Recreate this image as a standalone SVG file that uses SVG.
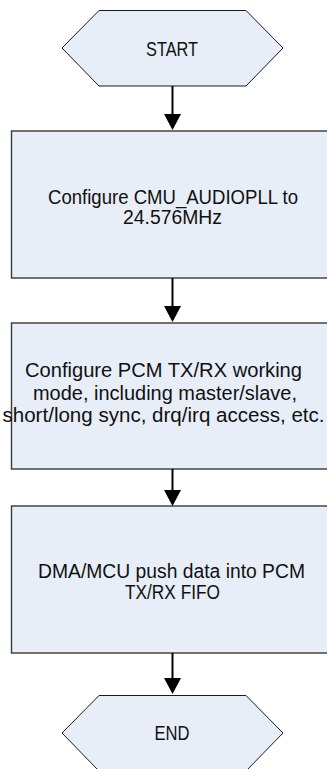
<svg xmlns="http://www.w3.org/2000/svg" width="327" height="769" viewBox="0 0 327 769">
<defs>
<style>
.hex{fill:#e8eef7;stroke:#1a1a1a;stroke-width:1}
.box{fill:#e8eef7;stroke:#3a3a3a;stroke-width:1.4}
.t{font-family:"Liberation Sans",Arial,sans-serif;font-size:19.5px;fill:#111;text-anchor:middle}
.c{stroke:#000;stroke-width:2;fill:none}
.ah{fill:#000}
</style>
</defs>
<rect width="327" height="769" fill="#fff"/>
<g id="start">
<polygon class="hex" points="62,48 99,10.5 246,10.5 283,48 246,86 99,86"/>
<text class="t" x="172" y="55.5" textLength="52" lengthAdjust="spacingAndGlyphs">START</text>
</g>
<g id="cfg-pll">
<rect class="box" x="11.5" y="131" width="330" height="147"/>
<text class="t" x="173" y="204" textLength="250" lengthAdjust="spacingAndGlyphs">Configure CMU_AUDIOPLL to</text>
<text class="t" x="172.5" y="224" textLength="99" lengthAdjust="spacingAndGlyphs">24.576MHz</text>
</g>
<g id="cfg-pcm">
<rect class="box" x="11.5" y="323" width="330" height="146"/>
<text class="t" x="163.5" y="377" textLength="277" lengthAdjust="spacingAndGlyphs">Configure PCM TX/RX working</text>
<text class="t" x="165" y="400" textLength="264" lengthAdjust="spacingAndGlyphs">mode, including master/slave,</text>
<text class="t" x="163.5" y="422" textLength="322" lengthAdjust="spacingAndGlyphs">short/long sync, drq/irq access, etc.</text>
</g>
<g id="push-data">
<rect class="box" x="11.5" y="506" width="330" height="147"/>
<text class="t" x="171.5" y="578" textLength="267" lengthAdjust="spacingAndGlyphs">DMA/MCU push data into PCM</text>
<text class="t" x="172.5" y="599" textLength="95" lengthAdjust="spacingAndGlyphs">TX/RX FIFO</text>
</g>
<g id="end">
<polygon class="hex" points="62,733 99,695.5 246,695.5 283,733 246,771 99,771"/>
<text class="t" x="172" y="740" textLength="35" lengthAdjust="spacingAndGlyphs">END</text>
</g>
<g id="connectors">
<line class="c" x1="172.5" y1="86" x2="172.5" y2="115"/>
<polygon class="ah" points="164,114 181,114 172.5,130"/>
<line class="c" x1="172.5" y1="278" x2="172.5" y2="307"/>
<polygon class="ah" points="164,306 181,306 172.5,322"/>
<line class="c" x1="172.5" y1="469" x2="172.5" y2="491"/>
<polygon class="ah" points="164,490 181,490 172.5,506"/>
<line class="c" x1="172.5" y1="653" x2="172.5" y2="679"/>
<polygon class="ah" points="164,678 181,678 172.5,694"/>
</g>
</svg>
